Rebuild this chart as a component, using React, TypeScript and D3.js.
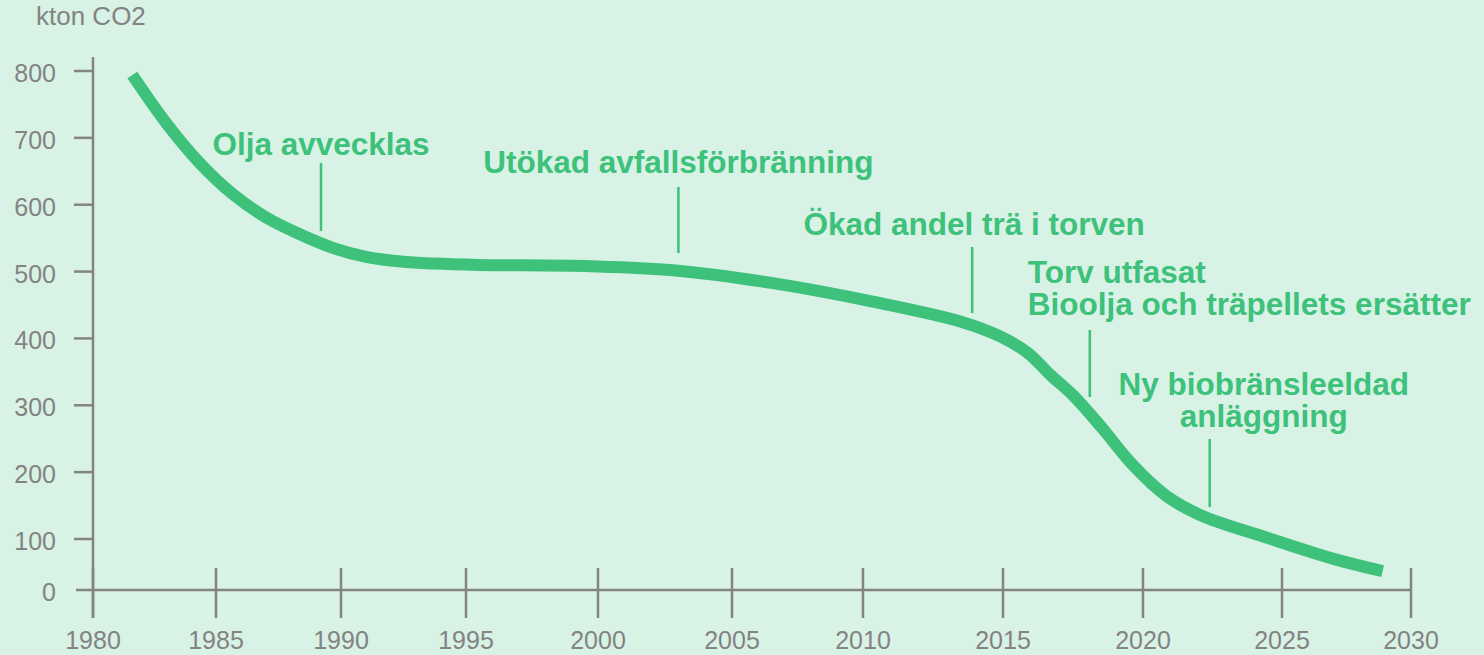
import React, { useEffect } from "react";
import * as d3 from "d3";

// emissions, kton CO2
const years = [
  1981.6, 1983.0, 1984.35, 1985.7, 1987.0, 1988.4, 1989.7, 1991.0, 1992.4,
  1993.7, 1995.5, 1999.7, 2002.8, 2006.5, 2010.35, 2013.5, 2014.9, 2015.9,
  2016.7, 2017.5, 2018.5, 2019.65, 2020.85, 2022.05, 2024.45, 2027.0, 2028.9
];
const emissions = [
  794, 721, 662, 615, 581, 555, 535, 522, 515, 512, 510, 508, 502, 483, 455,
  425, 403, 378, 345, 315, 268, 210, 164, 136, 102, 61, 37
];

const xTicks = [1980, 1985, 1990, 1995, 2000, 2005, 2010, 2015, 2020, 2025, 2030];
const yTicks = [0, 100, 200, 300, 400, 500, 600, 700, 800];
const yLabel = "kton CO2";

const noteLabels = [
  ["Olja avvecklas"],
  ["Utökad avfallsförbränning"],
  ["Ökad andel trä i torven"],
  ["Torv utfasat", "Bioolja och träpellets ersätter"],
  ["Ny biobränsleeldad", "anläggning"]
];
const noteYears = [1989.2, 2003.0, 2013.9, 2018.1, 2022.4];

// layout of the notes: text offset / anchor / baseline, leader top & bottom
const noteLayout = [
  { dx: 0, anchor: "middle", y: 155, top: 163, bottom: 231 },
  { dx: 0, anchor: "middle", y: 173, top: 187, bottom: 253 },
  { dx: 2, anchor: "middle", y: 235, top: 247, bottom: 313 },
  { dx: -62, anchor: "start", y: 283, top: 330, bottom: 397 },
  { dx: 54, anchor: "middle", y: 395, top: 439, bottom: 507 }
];

const W = 1484;
const H = 655;
const BG = "#d8f2e5";
const GREEN = "#3dc17b";
const GRAY = "#838383";
const FONT = "'Liberation Sans', Arial, sans-serif";

// the drawing is not evenly spaced, so the scales are piecewise
const x = d3
  .scaleLinear()
  .domain(xTicks)
  .range([93, 216, 341, 466, 598, 732, 863, 1003, 1143, 1282, 1411]);
const y = d3.scaleLinear().domain([0, 100, 800]).range([590, 539, 71]);

export default function App() {
  useEffect(() => {
    document.body.style.margin = "0";
  }, []);

  const line = d3
    .line<number>()
    .x((d, i) => x(years[i]))
    .y(d => y(d))
    .curve(d3.curveCatmullRom.alpha(0.5));

  return (
    <svg
      width={W}
      height={H}
      style={{ position: "absolute", left: 0, top: 0, display: "block" }}
      fontFamily={FONT}
    >
      <rect width={W} height={H} fill={BG} />

      <text x={36} y={25} fontSize={26} fill={GRAY}>
        {yLabel}
      </text>

      {/* y axis */}
      <line x1={x(1980)} x2={x(1980)} y1={57} y2={618} stroke={GRAY} strokeWidth={2.5} />
      {yTicks.map(t => (
        <g key={t}>
          {t > 0 && (
            <line x1={74} x2={x(1980)} y1={y(t)} y2={y(t)} stroke={GRAY} strokeWidth={2.5} />
          )}
          <text x={56} y={y(t) + 11} textAnchor="end" fontSize={25} fill={GRAY}>
            {t}
          </text>
        </g>
      ))}

      {/* x axis */}
      <line x1={76} x2={x(2030)} y1={y(0)} y2={y(0)} stroke={GRAY} strokeWidth={2.5} />
      {xTicks.map(t => (
        <g key={t}>
          <line x1={x(t)} x2={x(t)} y1={y(0) - 22} y2={y(0) + 28} stroke={GRAY} strokeWidth={2.5} />
          <text x={x(t)} y={649} textAnchor="middle" fontSize={25} fill={GRAY}>
            {t}
          </text>
        </g>
      ))}

      <path
        d={line(emissions) || ""}
        fill="none"
        stroke={GREEN}
        strokeWidth={12}
        strokeLinecap="butt"
      />

      {noteLabels.map((lines, i) => {
        const lx = x(noteYears[i]);
        const L = noteLayout[i];
        return (
          <g key={i}>
            <line x1={lx} x2={lx} y1={L.top} y2={L.bottom} stroke={GREEN} strokeWidth={2.5} />
            <text
              x={lx + L.dx}
              y={L.y}
              textAnchor={L.anchor}
              fontSize={31.5}
              fontWeight="bold"
              fill={GREEN}
            >
              {lines.map((s, j) => (
                <tspan key={j} x={lx + L.dx} dy={j === 0 ? 0 : 31.5}>
                  {s}
                </tspan>
              ))}
            </text>
          </g>
        );
      })}
    </svg>
  );
}
